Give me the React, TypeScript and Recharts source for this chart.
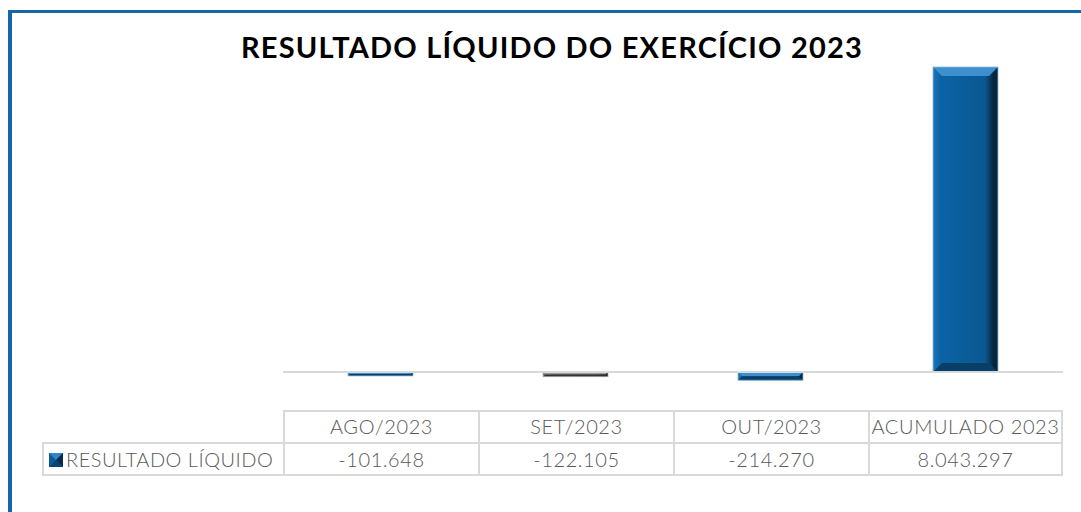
import { BarChart, Bar, XAxis, YAxis, ReferenceLine, Cell } from 'recharts';

const categories = ['AGO/2023', 'SET/2023', 'OUT/2023', 'ACUMULADO 2023'];
const resultado = [-101648, -122105, -214270, 8043297];
const seriesName = 'RESULTADO LÍQUIDO';
const barColors = ['blue', 'gray', 'blue', 'blue'];

const data = categories.map((name, i) => ({ name, value: resultado[i] }));

const fmt = (v: number) => {
  const s = Math.abs(v).toString().replace(/\B(?=(\d{3})+(?!\d))/g, '.');
  return v < 0 ? '-' + s : s;
};

const palettes: Record<string, { light: string; mid: string; dark: string; edge: string; top: string; bottom: string; stroke: string }> = {
  blue: { light: '#1f74b6', mid: '#0b63a6', dark: '#06263f', edge: '#0a5891', top: '#3d8fd0', bottom: '#083e68', stroke: '#8bbbe2' },
  gray: { light: '#7a7a7a', mid: '#5f5f5f', dark: '#1c1c1c', edge: '#555555', top: '#9a9a9a', bottom: '#333333', stroke: '#b0b0b0' },
};

const BevelBar = (props: any) => {
  const { x, y, width, height, index } = props;
  const p = palettes[barColors[index]] || palettes.blue;
  const y0 = Math.min(y, y + height);
  const h = Math.abs(height);
  const w = width;
  const b = Math.min(9, h / 2, w / 2);
  const gid = `bevel-grad-${index}`;
  return (
    <g>
      <defs>
        <linearGradient id={gid} x1="0" y1="0" x2="1" y2="0">
          <stop offset="0%" stopColor={p.light} />
          <stop offset="12%" stopColor={p.mid} />
          <stop offset="80%" stopColor={p.edge} />
          <stop offset="93%" stopColor={p.dark} />
          <stop offset="100%" stopColor={p.dark} />
        </linearGradient>
      </defs>
      <rect x={x} y={y0} width={w} height={h} fill={`url(#${gid})`} />
      <polygon
        points={`${x},${y0} ${x + w},${y0} ${x + w - b},${y0 + b} ${x + b},${y0 + b}`}
        fill={p.top}
      />
      <polygon
        points={`${x},${y0 + h} ${x + w},${y0 + h} ${x + w - b},${y0 + h - b} ${x + b},${y0 + h - b}`}
        fill={p.bottom}
      />
      <rect x={x} y={y0} width={w} height={h} fill="none" stroke={p.stroke} strokeWidth={0.8} />
    </g>
  );
};

const textColor = '#595959';
const gridColor = '#d9d9d9';
const font = 'Lato, "Open Sans", sans-serif';

const colLeft = 283;
const colWidth = 195;
const labelLeft = 42;
const row1Top = 410;
const row2Top = 442;
const rowBottom = 476;

export default function App() {
  return (
    <div
      style={{
        position: 'absolute',
        left: 0,
        top: 0,
        width: 1081,
        height: 512,
        overflow: 'hidden',
        background: '#ffffff',
        fontFamily: font,
      }}
    >
      <div
        style={{
          position: 'absolute',
          left: 8,
          top: 10,
          width: 1200,
          height: 700,
          borderLeft: '4px solid #1565a8',
          borderTop: '3px solid #1565a8',
        }}
      />
      <div
        style={{
          position: 'absolute',
          left: 0,
          top: 30,
          width: 1104,
          textAlign: 'center',
          fontSize: 29,
          fontWeight: 700,
          letterSpacing: 1.2,
          lineHeight: '34px',
          color: '#000000',
        }}
      >
        RESULTADO LÍQUIDO DO EXERCÍCIO 2023
      </div>
      <div style={{ position: 'absolute', left: 0, top: 0 }}>
        <BarChart
          width={1081}
          height={512}
          data={data}
          margin={{ top: 67, right: 18, left: 283, bottom: 102 }}
        >
          <XAxis dataKey="name" hide />
          <YAxis hide domain={[-1000000, 'dataMax']} />
          <ReferenceLine y={0} stroke={gridColor} strokeWidth={2} />
          <Bar dataKey="value" barSize={65} shape={BevelBar} isAnimationActive={false}>
            {data.map((d, i) => (
              <Cell key={`cell-${i}`} fill={barColors[i]} />
            ))}
          </Bar>
        </BarChart>
      </div>

      {/* data table */}
      {categories.map((c, i) => (
        <div
          key={`h-${i}`}
          style={{
            position: 'absolute',
            left: colLeft + i * colWidth,
            top: row1Top,
            width: colWidth,
            height: row2Top - row1Top,
            boxSizing: 'border-box',
            borderLeft: `2px solid ${gridColor}`,
            borderTop: `2px solid ${gridColor}`,
            borderRight: i === categories.length - 1 ? `2px solid ${gridColor}` : undefined,
            color: textColor,
            fontSize: 20,
            fontWeight: 300,
            letterSpacing: 0.6,
            lineHeight: '29px',
            textAlign: 'center',
            whiteSpace: 'nowrap',
          }}
        >
          {c}
        </div>
      ))}
      <div
        style={{
          position: 'absolute',
          left: labelLeft,
          top: row2Top,
          width: colLeft - labelLeft,
          height: rowBottom - row2Top,
          boxSizing: 'border-box',
          border: `2px solid ${gridColor}`,
          borderRight: 'none',
          color: textColor,
          fontSize: 20,
          fontWeight: 300,
          letterSpacing: 0.5,
          lineHeight: '30px',
          whiteSpace: 'nowrap',
          paddingLeft: 22,
        }}
      >
        <svg width={14} height={14} style={{ position: 'absolute', left: 5, top: 9 }}>
          <rect x={0} y={0} width={14} height={14} fill="#0b5a96" />
          <polygon points="0,0 14,0 7,7" fill="#2f86c8" />
          <polygon points="14,0 14,14 7,7" fill="#062a47" />
          <polygon points="0,14 14,14 7,7" fill="#0a4473" />
        </svg>
        {seriesName}
      </div>
      {resultado.map((v, i) => (
        <div
          key={`v-${i}`}
          style={{
            position: 'absolute',
            left: colLeft + i * colWidth,
            top: row2Top,
            width: colWidth,
            height: rowBottom - row2Top,
            boxSizing: 'border-box',
            borderLeft: `2px solid ${gridColor}`,
            borderTop: `2px solid ${gridColor}`,
            borderBottom: `2px solid ${gridColor}`,
            borderRight: i === resultado.length - 1 ? `2px solid ${gridColor}` : undefined,
            color: textColor,
            fontSize: 20,
            fontWeight: 300,
            letterSpacing: 0.6,
            lineHeight: '30px',
            textAlign: 'center',
          }}
        >
          {fmt(v)}
        </div>
      ))}
    </div>
  );
}
